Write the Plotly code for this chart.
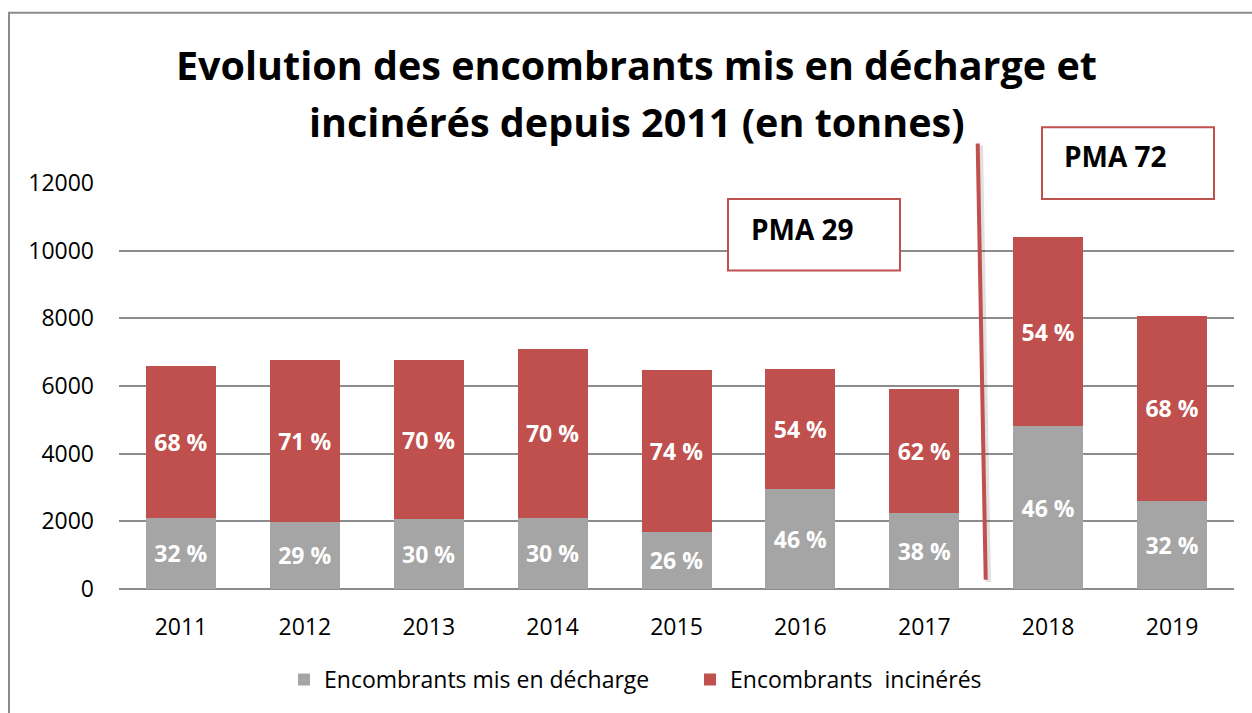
import plotly.graph_objects as go

# ---- data ----
years = ["2011", "2012", "2013", "2014", "2015", "2016", "2017", "2018", "2019"]
decharge = [2103, 1985, 2062, 2112, 1699, 2966, 2238, 4812, 2612]
incineres = [4476, 4780, 4711, 4977, 4762, 3525, 3673, 5584, 5457]
pct_decharge = [32, 29, 30, 30, 26, 46, 38, 46, 32]
pct_incineres = [68, 71, 70, 70, 74, 54, 62, 54, 68]
y_ticks = [0, 2000, 4000, 6000, 8000, 10000, 12000]

GRAY = "#A5A5A5"
RED = "#C0504D"
FONT = "Open Sans"

W, H = 1252, 713
ML, MR, MT, MB = 119, 18, 183, 122
PW = W - ML - MR
PH = H - MT - MB


def px(x):
    return (x - ML) / PW


def py(y):
    return (H - MB - y) / PH


fig = go.Figure()
fig.add_trace(go.Bar(
    x=years, y=decharge, name="Encombrants mis en décharge",
    marker=dict(color=GRAY, line=dict(width=0)),
    text=[f"{p} %" for p in pct_decharge], textposition="inside",
    insidetextanchor="middle", textangle=0, constraintext="none",
    textfont=dict(family=FONT, size=23, color="white", weight="bold"),
    hoverinfo="skip",
))
fig.add_trace(go.Bar(
    x=years, y=incineres, name="Encombrants \u00a0incinérés",
    marker=dict(color=RED, line=dict(width=0)),
    text=[f"{p} %" for p in pct_incineres], textposition="inside",
    insidetextanchor="middle", textangle=0, constraintext="none",
    textfont=dict(family=FONT, size=23, color="white", weight="bold"),
    hoverinfo="skip",
))

shapes = [
    # outer chart border (top + left)
    dict(type="path", xref="paper", yref="paper",
         path=f"M {px(9)},{py(720)} L {px(9)},{py(12)} L {px(1260)},{py(12)}",
         line=dict(color="#8C8C8C", width=2)),
    # separator line shadow + line
    dict(type="line", xref="paper", yref="paper",
         x0=px(980.5), y0=py(145), x1=px(988.5), y1=py(584),
         line=dict(color="rgba(0,0,0,0.12)", width=5), layer="above"),
    dict(type="line", xref="paper", yref="paper",
         x0=px(977.7), y0=py(143.3), x1=px(985.7), y1=py(581.7),
         line=dict(color=RED, width=4), layer="above"),
    # PMA boxes
    dict(type="rect", xref="paper", yref="paper",
         x0=px(728), y0=py(199), x1=px(900), y1=py(271),
         line=dict(color=RED, width=2), fillcolor="white", layer="above"),
    dict(type="rect", xref="paper", yref="paper",
         x0=px(1042), y0=py(127), x1=px(1214), y1=py(199),
         line=dict(color=RED, width=2), fillcolor="white", layer="above"),
]

annotations = [
    dict(text="Evolution des encombrants mis en décharge et", xref="paper", yref="paper",
         x=px(636), y=py(64), xanchor="center", yanchor="middle", showarrow=False,
         font=dict(family=FONT, size=39.5, color="black", weight="bold")),
    dict(text="incinérés depuis 2011 (en tonnes)", xref="paper", yref="paper",
         x=px(637), y=py(122), xanchor="center", yanchor="middle", showarrow=False,
         font=dict(family=FONT, size=39.5, color="black", weight="bold")),
    dict(text="PMA 29", xref="paper", yref="paper",
         x=px(749), y=py(229), xanchor="left", yanchor="middle", showarrow=False,
         font=dict(family=FONT, size=28, color="black", weight="bold")),
    dict(text="PMA 72", xref="paper", yref="paper",
         x=px(1062), y=py(156), xanchor="left", yanchor="middle", showarrow=False,
         font=dict(family=FONT, size=28, color="black", weight="bold")),
]

fig.update_layout(
    width=W, height=H,
    margin=dict(l=ML, r=MR, t=MT, b=MB, pad=0),
    paper_bgcolor="white", plot_bgcolor="white",
    barmode="stack", bargap=0.435,
    font=dict(family=FONT, size=23, color="black"),
    showlegend=True,
    legend=dict(orientation="h", x=px(284), y=py(682), xanchor="left", yanchor="middle",
                traceorder="normal", entrywidth=361, entrywidthmode="pixels",
                font=dict(family=FONT, size=23, color="black"),
                bgcolor="rgba(0,0,0,0)"),
    shapes=shapes, annotations=annotations,
)
fig.update_xaxes(type="category", showgrid=False, showline=False, zeroline=False,
                 ticks="", ticklabelstandoff=22, tickfont=dict(family=FONT, size=23, color="black"))
fig.update_yaxes(range=[0, 12000], tickvals=y_ticks, ticktext=[str(v) for v in y_ticks],
                 showgrid=True, gridcolor="#8C8C8C", gridwidth=2,
                 zeroline=True, zerolinecolor="#8C8C8C", zerolinewidth=2,
                 showline=False, ticks="", ticklabelstandoff=24,
                 tickfont=dict(family=FONT, size=23, color="black"))

fig.write_html("out.html", config={"displayModeBar": False},
               post_script="document.body.style.margin='0px';")
